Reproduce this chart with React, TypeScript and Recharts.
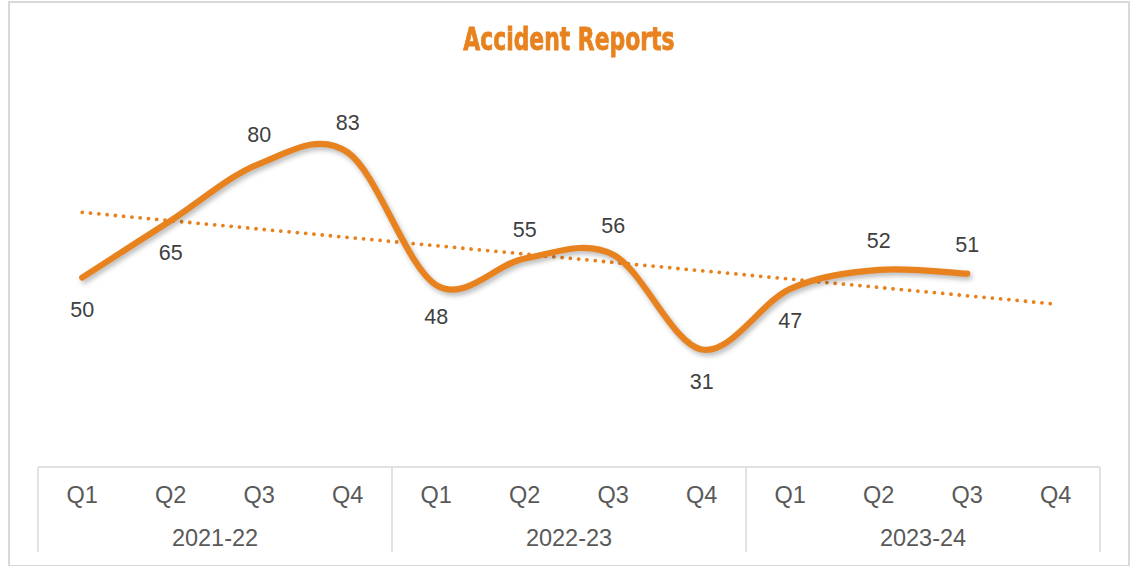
import { LineChart, Line, XAxis, YAxis, LabelList } from 'recharts';

const quarters = ['Q1', 'Q2', 'Q3', 'Q4', 'Q1', 'Q2', 'Q3', 'Q4', 'Q1', 'Q2', 'Q3', 'Q4'];
const years = ['2021-22', '2021-22', '2021-22', '2021-22', '2022-23', '2022-23', '2022-23', '2022-23', '2023-24', '2023-24', '2023-24', '2023-24'];
const accidents = [50, 65, 80, 83, 48, 55, 56, 31, 47, 52, 51, null];
// where each data label sits relative to its point
const labelSide = ['below', 'below', 'above', 'above', 'below', 'above', 'above', 'below', 'below', 'above', 'above', 'above'];

const ORANGE = '#E8821E';
const AXIS_GREY = '#d9d9d9';
const FONT = '"Liberation Sans", Arial, sans-serif';

// linear trendline (least squares) over the reported quarters, like Excel's
const known = accidents.map((v, i) => ({ x: i + 1, y: v })).filter((p) => p.y != null) as { x: number; y: number }[];
const mx = known.reduce((s, p) => s + p.x, 0) / known.length;
const my = known.reduce((s, p) => s + p.y, 0) / known.length;
const slope = known.reduce((s, p) => s + (p.x - mx) * (p.y - my), 0) / known.reduce((s, p) => s + (p.x - mx) ** 2, 0);
const intercept = my - slope * mx;

const data = quarters.map((q, i) => ({
  idx: i,
  quarter: q,
  year: years[i],
  accidents: accidents[i],
  trend: intercept + slope * (i + 1),
}));

// Catmull-Rom style smoothing (what Excel's "smoothed line" does)
const excelSmooth = (context: any) => {
  let pts: number[][] = [];
  return {
    areaStart() {},
    areaEnd() {},
    lineStart() {
      pts = [];
    },
    point(x: number, y: number) {
      pts.push([+x, +y]);
    },
    lineEnd() {
      if (!pts.length) return;
      context.moveTo(pts[0][0], pts[0][1]);
      for (let i = 0; i < pts.length - 1; i++) {
        const p0 = pts[i - 1] || pts[i];
        const p1 = pts[i];
        const p2 = pts[i + 1];
        const p3 = pts[i + 2] || p2;
        context.bezierCurveTo(
          p1[0] + (p2[0] - p0[0]) / 6,
          p1[1] + (p2[1] - p0[1]) / 6,
          p2[0] - (p3[0] - p1[0]) / 6,
          p2[1] - (p3[1] - p1[1]) / 6,
          p2[0],
          p2[1]
        );
      }
    },
  };
};

const axisText = (x: number, y: number, label: string) => (
  <text x={x} y={y} textAnchor="middle" dominantBaseline="central" fontSize={23.5} fill="#595959" fontFamily={FONT}>
    {label}
  </text>
);

// quarter row + the group box lines around each year
const QuarterTick = ({ x, y, payload, index }: any) => {
  const i = index ?? payload.index ?? 0;
  const half = payload.offset || 44.25;
  return (
    <g>
      {i % 4 === 0 && <line x1={x - half} x2={x - half} y1={y} y2={y + 85} stroke={AXIS_GREY} strokeWidth={1.5} />}
      {i === quarters.length - 1 && <line x1={x + half} x2={x + half} y1={y} y2={y + 85} stroke={AXIS_GREY} strokeWidth={1.5} />}
      {axisText(x, y + 28, quarters[i])}
      {i % 4 === 1 && axisText(x + half, y + 71, years[i])}
    </g>
  );
};

const PointLabel = ({ x, y, value, index }: any) => {
  if (value == null) return null;
  const dy = labelSide[index] === 'above' ? -29 : 32;
  return (
    <text x={x} y={y + dy} textAnchor="middle" dominantBaseline="central" fontSize={21.5} fill="#404040" fontFamily={FONT}>
      {value}
    </text>
  );
};

export default function App() {
  return (
    <div style={{ position: 'absolute', left: 0, top: 0, width: 1134, height: 566, background: '#fff' }}>
      <style>{`.acc-line path { filter: drop-shadow(2px 3px 2.5px rgba(0,0,0,0.28)); }`}</style>
      <div
        style={{
          position: 'absolute',
          left: 8,
          top: 1,
          width: 1118,
          height: 562,
          border: `2px solid ${AXIS_GREY}`,
        }}
      />
      <div
        style={{
          position: 'absolute',
          left: 0,
          top: 20,
          width: 1138,
          textAlign: 'center',
        }}
      >
        <span
          style={{
            display: 'inline-block',
            transform: 'scaleX(0.76)',
            fontFamily: '"DejaVu Sans Condensed", "DejaVu Sans", Arial, sans-serif',
            fontWeight: 700,
            fontSize: 32,
            lineHeight: '38px',
            color: ORANGE,
            WebkitTextStroke: `0.8px ${ORANGE}`,
          }}
        >
          Accident Reports
        </span>
      </div>
      <div style={{ position: 'absolute', left: 0, top: 0 }}>
        <LineChart width={1134} height={566} data={data} margin={{ top: 88, right: 34, bottom: 11, left: 38 }}>
          <XAxis
            dataKey="idx"
            type="category"
            scale="band"
            interval={0}
            height={88}
            tickSize={0}
            tickMargin={0}
            tickLine={false}
            axisLine={{ stroke: AXIS_GREY, strokeWidth: 1.5 }}
            tick={<QuarterTick />}
          />
          <YAxis hide width={0} domain={[0, 100]} />
          <Line
            dataKey="trend"
            type="linear"
            stroke={ORANGE}
            strokeWidth={3.8}
            strokeDasharray="0.01 8.3"
            strokeLinecap="round"
            dot={false}
            activeDot={false}
            isAnimationActive={false}
          />
          <Line
            dataKey="accidents"
            className="acc-line"
            type={excelSmooth as any}
            stroke={ORANGE}
            strokeWidth={6.2}
            strokeLinecap="round"
            dot={false}
            activeDot={false}
            isAnimationActive={false}
          >
            <LabelList dataKey="accidents" content={<PointLabel />} />
          </Line>
        </LineChart>
      </div>
    </div>
  );
}
